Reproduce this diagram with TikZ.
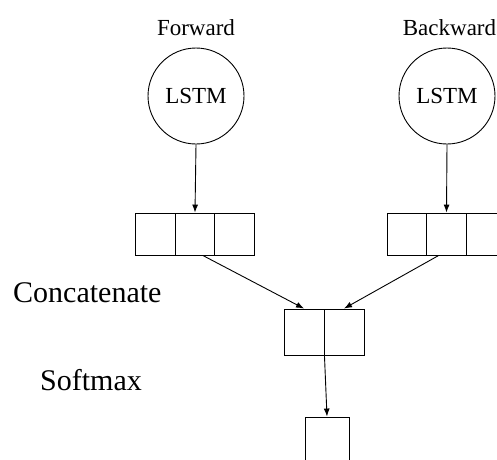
\documentclass[tikz,border=0pt]{standalone}
\usepackage{fontspec}
\setmainfont{Liberation Serif}
\usetikzlibrary{positioning, arrows.meta}
\tikzset{
every circle node/.style={draw, circle},
lstm/.style={draw, circle, minimum size=96pt, inner sep=0pt, line width=0.9pt, font=\fontsize{23}{27}\selectfont},
cell/.style={draw, rectangle, minimum width=39.5pt, minimum height=42pt, inner sep=0pt, line width=0.9pt},
catcell/.style={cell, minimum width=40pt, minimum height=46pt},
small/.style={inner sep=0pt, font=\fontsize{23}{27}\selectfont},
big/.style={inner sep=0pt, anchor=west, font=\fontsize{30}{36}\selectfont},
flow/.style={-{Latex[length=8pt,width=6pt]}, line width=0.9pt},
}

\begin{document}
\begin{tikzpicture}[x=1pt, y=-1pt]
    \clip (0,0) rectangle (497,459);

    %titles
    \node[small] (fwd) at (196,28) {Forward};
    \node[small] (bwd) at (449.5,28) {Backward};

    %lstm units
    \node[lstm] (lstmf) at (196,96) {LSTM};
    \node[lstm] (lstmb) at (447,96) {LSTM};

    %forward output
    \node[cell] (lc1) at (155.5,234) { };
    \node[cell] (lc2) at (195,234) { };
    \node[cell] (lc3) at (234.5,234) { };

    %backward output
    \node[cell] (rc1) at (407,234) { };
    \node[cell] (rc2) at (446.5,234) { };
    \node[cell] (rc3) at (486,234) { };

    %concatenated
    \node[catcell] (cat1) at (304,332) { };
    \node[catcell] (cat2) at (344,332) { };

    %softmax output
    \node[cell, minimum width=44pt, minimum height=46pt] (sm) at (327,440) { };

    %labels
    \node[big] (concat) at (13,293) {Concatenate};
    \node[big] (soft) at (40,380) {Softmax};

    %arrows
    \draw[flow] (lstmf.south)--(lc2.north);
    \draw[flow] (lstmb.south)--(rc2.north);
    \draw[flow] (lc2.-70)--(cat1.north);
    \draw[flow] (rc2.-110)--(cat2.north);
    \draw[flow] (cat1.south east)--(sm.north);

\end{tikzpicture}
\end{document}
